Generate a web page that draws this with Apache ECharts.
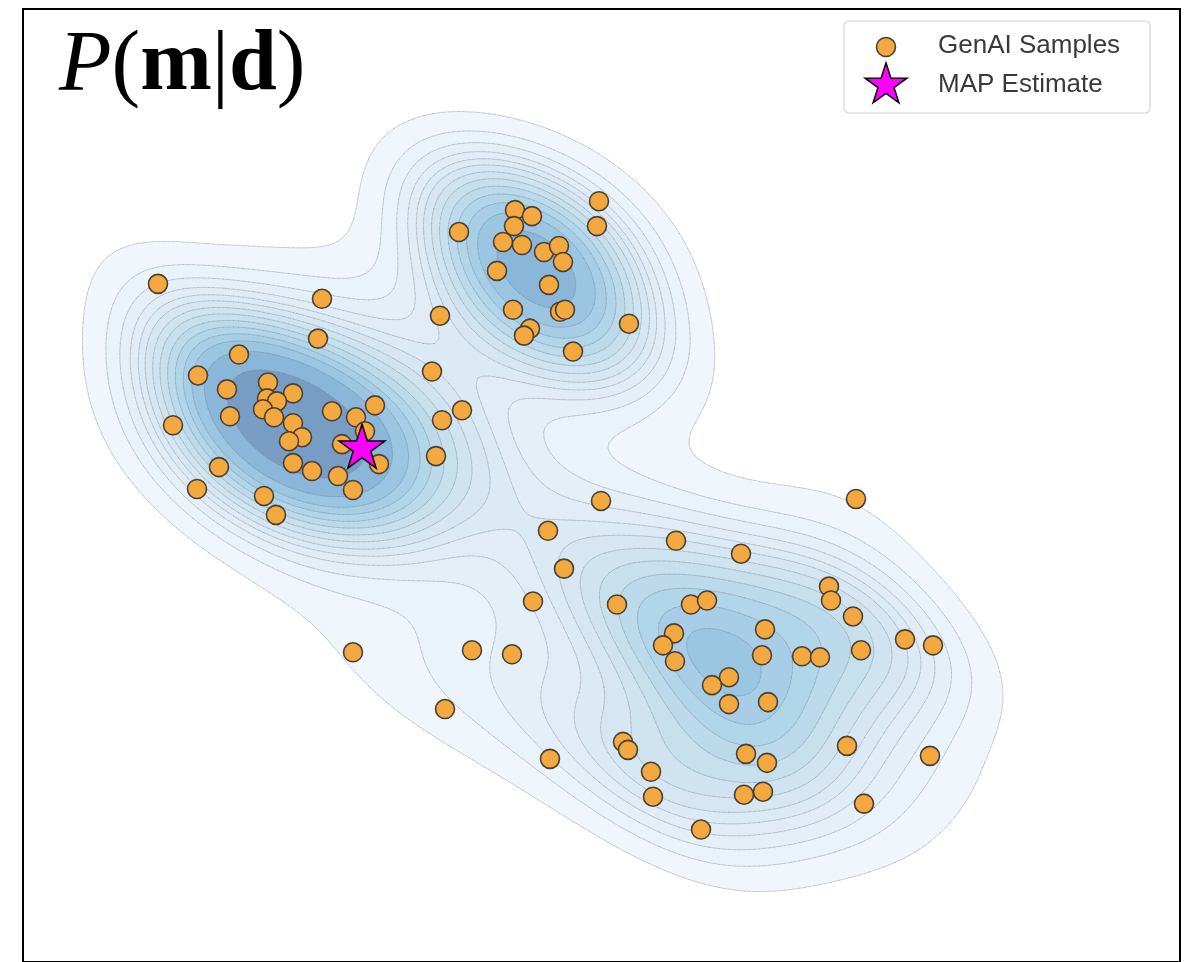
<!DOCTYPE html>
<html>
<head>
<meta charset="utf-8">
<script src="https://cdn.jsdelivr.net/npm/echarts@6/dist/echarts.min.js"></script>
<style>
html, body { margin: 0; padding: 0; background: #fff; }
#chart { width: 1187px; height: 962px; }
</style>
</head>
<body>
<div id="chart"></div>
<script>
// samples, [x, y]
var leftSamples = [
    [1.35, 6.81], [2.99, 6.66], [4.17, 6.49], [2.95, 6.26], [2.16, 6.10], [1.75, 5.89],
    [4.09, 5.93], [2.04, 5.75], [2.45, 5.82], [2.70, 5.71], [2.44, 5.66], [2.54, 5.63],
    [2.40, 5.55], [2.51, 5.47], [2.07, 5.48], [3.09, 5.53], [3.33, 5.47], [3.52, 5.59],
    [4.39, 5.54], [4.19, 5.44], [2.70, 5.41], [2.79, 5.27], [2.66, 5.23], [3.42, 5.33],
    [3.19, 5.20], [3.56, 5.00], [4.13, 5.08], [1.50, 5.39], [1.96, 4.97], [2.70, 5.01],
    [2.89, 4.93], [3.15, 4.88], [3.30, 4.74], [1.74, 4.75], [2.41, 4.68], [2.53, 4.49]
];
var topSamples = [
    [5.76, 7.64], [5.74, 7.39], [4.92, 7.55], [5.09, 7.49], [4.91, 7.39], [4.80, 7.23],
    [4.99, 7.20], [5.21, 7.13], [5.36, 7.19], [5.40, 7.03], [4.74, 6.94], [5.26, 6.80],
    [4.36, 7.33], [4.90, 6.55], [5.37, 6.53], [5.42, 6.55], [5.07, 6.36], [5.01, 6.29],
    [6.06, 6.41], [5.50, 6.13]
];
var lowerSamples = [
    [5.78, 4.63], [8.33, 4.65], [5.25, 4.33], [6.53, 4.23], [7.18, 4.10], [5.41, 3.95],
    [5.10, 3.62], [5.94, 3.59], [6.68, 3.59], [6.84, 3.63], [8.06, 3.77], [8.08, 3.63],
    [8.30, 3.47], [7.42, 3.34], [6.51, 3.30], [6.40, 3.18], [6.52, 3.02], [7.39, 3.08],
    [7.79, 3.07], [7.97, 3.06], [8.38, 3.13], [8.82, 3.24], [9.10, 3.18], [7.06, 2.86],
    [6.89, 2.78], [7.06, 2.59], [7.45, 2.61], [3.30, 3.11], [4.49, 3.13], [4.89, 3.09],
    [4.22, 2.54], [6.00, 2.21], [6.05, 2.13], [5.27, 2.04], [6.28, 1.91], [7.23, 2.09],
    [7.44, 2.00], [8.24, 2.17], [9.07, 2.07], [6.30, 1.66], [7.21, 1.68], [7.40, 1.71],
    [8.41, 1.59], [6.78, 1.33]
];
var mapEstimate = [[3.39, 5.18]];

var samples = leftSamples.concat(topSamples, lowerSamples);

var xMax = 11.57, yMax = 9.57;
var bwAdjust = 0.8;
var nLevels = 15;
var thresh = 0.07;
var step = 0.05;

var blues = ['#f7fbff', '#deebf7', '#c6dbef', '#9ecae1', '#6baed6', '#4292c6', '#2171b5', '#08519c', '#08306b'];
var fillAlpha = 0.55;

var starShape = 'M50,0L61.23,34.55L97.55,34.55L68.17,55.9L79.39,90.45L50,69.1L20.61,90.45L31.83,55.9L2.45,34.55L38.77,34.55Z';

// gaussian kde with full covariance (scott factor)
function buildDensity(points) {
    var n = points.length, mx = 0, my = 0;
    points.forEach(function(p) { mx += p[0]; my += p[1]; });
    mx /= n; my /= n;
    var sxx = 0, syy = 0, sxy = 0;
    points.forEach(function(p) {
        var dx = p[0] - mx, dy = p[1] - my;
        sxx += dx * dx; syy += dy * dy; sxy += dx * dy;
    });
    sxx /= (n - 1); syy /= (n - 1); sxy /= (n - 1);
    var f = Math.pow(n, -1 / 6) * bwAdjust, f2 = f * f;
    var a = sxx * f2, b = sxy * f2, d = syy * f2;
    var det = a * d - b * b;
    var ia = d / det, ib = -b / det, id = a / det;
    var nx = Math.round(xMax / step) + 1, ny = Math.round(yMax / step) + 1;
    var xs = [], ys = [];
    for (var i = 0; i < nx; i++) xs.push(i * xMax / (nx - 1));
    for (var j = 0; j < ny; j++) ys.push(j * yMax / (ny - 1));
    var z = new Float64Array(nx * ny);
    for (j = 0; j < ny; j++) {
        for (i = 0; i < nx; i++) {
            var s = 0;
            for (var k = 0; k < n; k++) {
                var dx = xs[i] - points[k][0], dy = ys[j] - points[k][1];
                s += Math.exp(-0.5 * (ia * dx * dx + 2 * ib * dx * dy + id * dy * dy));
            }
            z[j * nx + i] = s;
        }
    }
    return {xs: xs, ys: ys, nx: nx, ny: ny, z: z};
}

function isoLevels(z, count) {
    var sorted = Array.from(z).sort(function(a, b) { return b - a; });
    var cum = [], total = 0;
    for (var i = 0; i < sorted.length; i++) { total += sorted[i]; cum.push(total); }
    var out = [];
    for (var k = 0; k < count; k++) {
        var p = thresh + (1 - thresh) * k / (count - 1);
        var target = (1 - p) * total;
        var lo = 0, hi = cum.length - 1;
        while (lo < hi) {
            var mid = (lo + hi) >> 1;
            if (cum[mid] >= target) hi = mid; else lo = mid + 1;
        }
        out.push(sorted[lo]);
    }
    return out;
}

function hexRgb(h) {
    return [parseInt(h.substr(1, 2), 16), parseInt(h.substr(3, 2), 16), parseInt(h.substr(5, 2), 16)];
}

function bluesColor(t) {
    t = 0.06 + 0.94 * Math.max(0, Math.min(1, t));
    var pos = t * (blues.length - 1), i = Math.min(Math.floor(pos), blues.length - 2), f = pos - i;
    var c0 = hexRgb(blues[i]), c1 = hexRgb(blues[i + 1]);
    var c = c0.map(function(v, k) {
        var v2 = v + (c1[k] - v) * f;
        return Math.round(255 - fillAlpha * (255 - v2));
    });
    return 'rgb(' + c.join(',') + ')';
}

var dens = buildDensity(samples);
var levels = isoLevels(dens.z, nLevels);
var bandIdx = [];
for (var b = 0; b < nLevels - 1; b++) bandIdx.push([b, 0]);

function pixelGrid(api) {
    var px = dens.xs.map(function(x) { return api.coord([x, 0])[0]; });
    var py = dens.ys.map(function(y) { return api.coord([0, y])[1]; });
    return {px: px, py: py};
}

function f1(v) { return v.toFixed(1); }

function fillPath(L, px, py) {
    var z = dens.z, nx = dens.nx, ny = dens.ny, parts = [];
    function rect(s, e, j) {
        parts.push('M' + f1(px[s]) + ' ' + f1(py[j]) + 'L' + f1(px[e]) + ' ' + f1(py[j]) +
            'L' + f1(px[e]) + ' ' + f1(py[j + 1]) + 'L' + f1(px[s]) + ' ' + f1(py[j + 1]) + 'Z');
    }
    for (var j = 0; j < ny - 1; j++) {
        var run = -1;
        for (var i = 0; i < nx - 1; i++) {
            var vv = [z[j * nx + i], z[j * nx + i + 1], z[(j + 1) * nx + i + 1], z[(j + 1) * nx + i]];
            var c = 0;
            for (var k = 0; k < 4; k++) if (vv[k] >= L) c++;
            if (c === 4) { if (run < 0) run = i; continue; }
            if (run >= 0) { rect(run, i, j); run = -1; }
            if (c === 0) continue;
            var cx = [px[i], px[i + 1], px[i + 1], px[i]], cy = [py[j], py[j], py[j + 1], py[j + 1]];
            var pts = [];
            for (k = 0; k < 4; k++) {
                var k2 = (k + 1) % 4, in1 = vv[k] >= L, in2 = vv[k2] >= L;
                if (in1) pts.push(f1(cx[k]) + ' ' + f1(cy[k]));
                if (in1 !== in2) {
                    var t = (L - vv[k]) / (vv[k2] - vv[k]);
                    pts.push(f1(cx[k] + t * (cx[k2] - cx[k])) + ' ' + f1(cy[k] + t * (cy[k2] - cy[k])));
                }
            }
            parts.push('M' + pts.join('L') + 'Z');
        }
        if (run >= 0) rect(run, nx - 1, j);
    }
    return parts.join('');
}

function linePath(L, px, py) {
    var z = dens.z, nx = dens.nx, ny = dens.ny, parts = [];
    for (var j = 0; j < ny - 1; j++) {
        for (var i = 0; i < nx - 1; i++) {
            var vv = [z[j * nx + i], z[j * nx + i + 1], z[(j + 1) * nx + i + 1], z[(j + 1) * nx + i]];
            var cx = [px[i], px[i + 1], px[i + 1], px[i]], cy = [py[j], py[j], py[j + 1], py[j + 1]];
            var pts = [];
            for (var k = 0; k < 4; k++) {
                var k2 = (k + 1) % 4;
                if ((vv[k] >= L) !== (vv[k2] >= L)) {
                    var t = (L - vv[k]) / (vv[k2] - vv[k]);
                    pts.push(f1(cx[k] + t * (cx[k2] - cx[k])) + ' ' + f1(cy[k] + t * (cy[k2] - cy[k])));
                }
            }
            if (pts.length === 2) {
                parts.push('M' + pts[0] + 'L' + pts[1]);
            } else if (pts.length === 4) {
                if (vv[0] >= L) parts.push('M' + pts[0] + 'L' + pts[1] + 'M' + pts[2] + 'L' + pts[3]);
                else parts.push('M' + pts[1] + 'L' + pts[2] + 'M' + pts[3] + 'L' + pts[0]);
            }
        }
    }
    return parts.join('');
}

// five-pointed star outline for the legend key
function starPoints(cx, cy, R) {
    var pts = [];
    for (var k = 0; k < 10; k++) {
        var r = k % 2 ? R * 0.382 : R, a = (-90 + 36 * k) * Math.PI / 180;
        pts.push([cx + r * Math.cos(a), cy + r * Math.sin(a)]);
    }
    return pts;
}

var chart = echarts.init(document.getElementById('chart'));

var legendText = {fontFamily: 'Liberation Sans', fontSize: 26, fill: '#3a3a3a', verticalAlign: 'middle'};

var option = {
    animation: false,
    title: {
        text: '{it|P}{rm|(}{bf|m}{rm||}{bf|d}{rm|)}',
        left: 54,
        top: 19,
        textStyle: {
            rich: {
                it: {fontFamily: 'Liberation Serif', fontStyle: 'italic', fontWeight: 'normal', fontSize: 86, color: '#000'},
                rm: {fontFamily: 'Liberation Serif', fontStyle: 'normal', fontWeight: 'normal', fontSize: 86, color: '#000'},
                bf: {fontFamily: 'Liberation Serif', fontStyle: 'normal', fontWeight: 'bold', fontSize: 86, color: '#000'}
            }
        }
    },
    grid: {
        left: 23, right: 7, top: 9, bottom: -4,
        show: true, borderColor: '#000', borderWidth: 2, backgroundColor: 'transparent'
    },
    xAxis: {type: 'value', min: 0, max: xMax, show: false},
    yAxis: {type: 'value', min: 0, max: yMax, show: false},
    graphic: [{
        type: 'rect', z: 10,
        shape: {x: 844, y: 21, width: 306, height: 92, r: 5},
        style: {fill: 'rgba(255,255,255,0.85)', stroke: '#d4d4d4', lineWidth: 1.2}
    }, {
        type: 'circle', z: 11,
        shape: {cx: 886, cy: 47, r: 9.5},
        style: {fill: '#f3a840', stroke: '#4a4036', lineWidth: 1.6}
    }, {
        type: 'polygon', z: 11,
        shape: {points: starPoints(886, 85, 22)},
        style: {fill: '#ff00ff', stroke: '#000', lineWidth: 1.5}
    }, {
        type: 'text', z: 11, x: 938, y: 46,
        style: Object.assign({text: 'GenAI Samples'}, legendText)
    }, {
        type: 'text', z: 11, x: 938, y: 85,
        style: Object.assign({text: 'MAP Estimate'}, legendText)
    }],
    series: [{
        name: 'density',
        type: 'custom',
        silent: true,
        z: 1,
        data: bandIdx,
        renderItem: function(params, api) {
            var g = pixelGrid(api);
            var k = api.value(0);
            var mid = (levels[k] + levels[k + 1]) / 2;
            var t = (mid - levels[0]) / (levels[nLevels - 1] - levels[0]);
            return {
                type: 'path',
                shape: {pathData: fillPath(levels[k], g.px, g.py)},
                style: {fill: bluesColor(t)}
            };
        }
    }, {
        name: 'contours',
        type: 'custom',
        silent: true,
        z: 2,
        data: bandIdx,
        renderItem: function(params, api) {
            var g = pixelGrid(api);
            var k = api.value(0);
            return {
                type: 'path',
                shape: {pathData: linePath(levels[k], g.px, g.py)},
                style: {fill: 'none', stroke: 'rgba(110,120,130,0.3)', lineWidth: 1, lineCap: 'round'}
            };
        }
    }, {
        name: 'GenAI Samples',
        type: 'scatter',
        z: 3,
        symbol: 'circle',
        symbolSize: 19,
        itemStyle: {color: '#f3a840', borderColor: '#4a4036', borderWidth: 1.6, opacity: 1},
        data: samples
    }, {
        name: 'MAP Estimate',
        type: 'scatter',
        z: 4,
        symbol: 'path://' + starShape,
        symbolSize: [46, 44],
        itemStyle: {color: '#ff00ff', borderColor: '#000', borderWidth: 1.5, opacity: 1},
        data: mapEstimate
    }]
};

chart.setOption(option);
</script>
</body>
</html>
